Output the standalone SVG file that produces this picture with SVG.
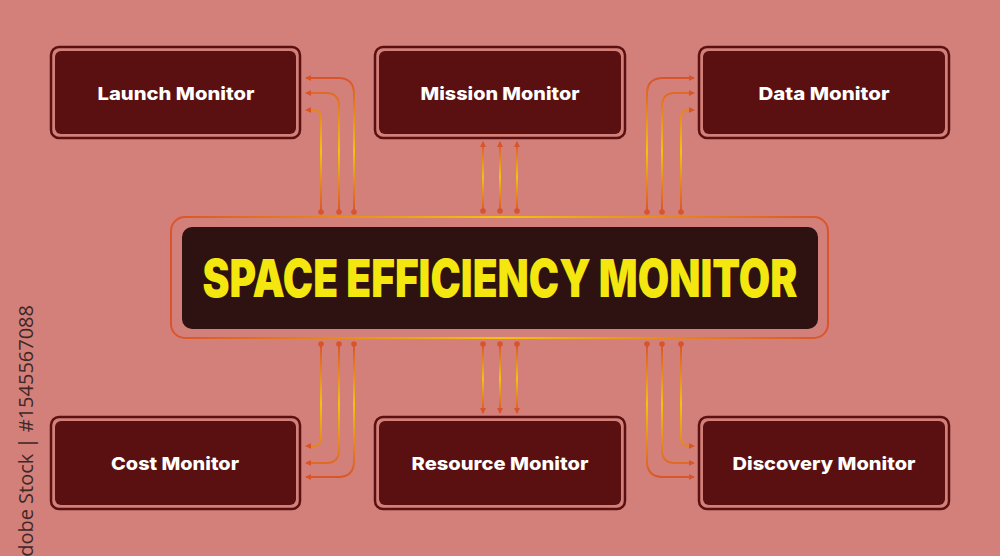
<svg xmlns="http://www.w3.org/2000/svg" width="1000" height="556" viewBox="0 0 1000 556">
<defs>
<style>
.node-outer{fill:none;stroke:#5A0F10;stroke-width:2.5}
.node-inner{fill:#5A0F10}
.lbl{font-family:Inter,"Open Sans","Liberation Sans",sans-serif;font-weight:800;font-size:18px;fill:#FFFFFF;text-anchor:middle}
.title{font-family:Inter,"Open Sans","Liberation Sans",sans-serif;font-weight:900;font-size:52px;fill:#F4E60F;text-anchor:middle}
.dot{fill:#D9542B}
.c{fill:none;stroke-width:2}
</style>
<linearGradient id="gTop" gradientUnits="userSpaceOnUse" x1="0" y1="78" x2="0" y2="212">
<stop offset="0" stop-color="#D9542B"/><stop offset="0.55" stop-color="#F4C20D"/><stop offset="1" stop-color="#D9542B"/>
</linearGradient>
<linearGradient id="gTopM" gradientUnits="userSpaceOnUse" x1="0" y1="142" x2="0" y2="212">
<stop offset="0" stop-color="#D9542B"/><stop offset="0.5" stop-color="#F4C20D"/><stop offset="1" stop-color="#D9542B"/>
</linearGradient>
<linearGradient id="gBot" gradientUnits="userSpaceOnUse" x1="0" y1="344" x2="0" y2="478">
<stop offset="0" stop-color="#D9542B"/><stop offset="0.45" stop-color="#F4C20D"/><stop offset="1" stop-color="#D9542B"/>
</linearGradient>
<linearGradient id="gBotM" gradientUnits="userSpaceOnUse" x1="0" y1="344" x2="0" y2="413">
<stop offset="0" stop-color="#D9542B"/><stop offset="0.5" stop-color="#F4C20D"/><stop offset="1" stop-color="#D9542B"/>
</linearGradient>
<linearGradient id="gH" gradientUnits="userSpaceOnUse" x1="171" y1="0" x2="828" y2="0">
<stop offset="0" stop-color="#D9542B"/><stop offset="0.5" stop-color="#F4C20D"/><stop offset="1" stop-color="#D9542B"/>
</linearGradient>
<marker id="arr" viewBox="0 0 6 6" refX="5" refY="3" markerWidth="6" markerHeight="6" markerUnits="userSpaceOnUse" orient="auto">
<path d="M0,0 L6,3 L0,6 z" fill="#D9542B"/>
</marker>
</defs>
<rect x="0" y="0" width="1000" height="556" fill="#D4807A"/>

<text transform="translate(33,305) rotate(-90)" font-family="'Open Sans','Liberation Sans',sans-serif" font-size="20" fill="#3E2828" text-anchor="end">Adobe Stock | #1545567088</text>

<g id="center">
<rect x="171" y="217" width="657" height="121" rx="14" fill="none" stroke="url(#gH)" stroke-width="2"/>
<rect x="182" y="227" width="636" height="102" rx="10" fill="#2E1111"/>
<text class="title" x="500" y="297" textLength="595" lengthAdjust="spacingAndGlyphs">SPACE EFFICIENCY MONITOR</text>
</g>

<g id="launch">
<rect class="node-outer" x="51" y="47" width="249" height="91" rx="8"/>
<rect class="node-inner" x="55" y="51" width="241" height="83" rx="6"/>
<text class="lbl" x="176" y="100" textLength="157" lengthAdjust="spacingAndGlyphs">Launch Monitor</text>
</g>
<g id="mission">
<rect class="node-outer" x="375" y="47" width="250" height="91" rx="8"/>
<rect class="node-inner" x="379" y="51" width="242" height="83" rx="6"/>
<text class="lbl" x="500" y="100" textLength="159" lengthAdjust="spacingAndGlyphs">Mission Monitor</text>
</g>
<g id="data">
<rect class="node-outer" x="699" y="47" width="250" height="91" rx="8"/>
<rect class="node-inner" x="703" y="51" width="242" height="83" rx="6"/>
<text class="lbl" x="824" y="100" textLength="131" lengthAdjust="spacingAndGlyphs">Data Monitor</text>
</g>
<g id="cost">
<rect class="node-outer" x="51" y="417" width="249" height="92" rx="8"/>
<rect class="node-inner" x="55" y="421" width="241" height="84" rx="6"/>
<text class="lbl" x="175" y="470" textLength="128" lengthAdjust="spacingAndGlyphs">Cost Monitor</text>
</g>
<g id="resource">
<rect class="node-outer" x="375" y="417" width="250" height="92" rx="8"/>
<rect class="node-inner" x="379" y="421" width="242" height="84" rx="6"/>
<text class="lbl" x="500" y="470" textLength="177" lengthAdjust="spacingAndGlyphs">Resource Monitor</text>
</g>
<g id="discovery">
<rect class="node-outer" x="699" y="417" width="250" height="92" rx="8"/>
<rect class="node-inner" x="703" y="421" width="242" height="84" rx="6"/>
<text class="lbl" x="824" y="470" textLength="183" lengthAdjust="spacingAndGlyphs">Discovery Monitor</text>
</g>

<g id="connectors">
<path class="c" stroke="url(#gTop)" d="M354,212 V94 Q354,78 338,78 H306" marker-end="url(#arr)"/>
<path class="c" stroke="url(#gTop)" d="M339,212 V106 Q339,93 326,93 H306" marker-end="url(#arr)"/>
<path class="c" stroke="url(#gTop)" d="M321,212 V118 Q321,110 313,110 H306" marker-end="url(#arr)"/>
<circle class="dot" cx="354" cy="212" r="2.8"/><circle class="dot" cx="339" cy="212" r="2.8"/><circle class="dot" cx="321" cy="212" r="2.8"/>
<path class="c" stroke="url(#gTopM)" d="M483,211 V142" marker-end="url(#arr)"/>
<path class="c" stroke="url(#gTopM)" d="M500,211 V142" marker-end="url(#arr)"/>
<path class="c" stroke="url(#gTopM)" d="M517,211 V142" marker-end="url(#arr)"/>
<circle class="dot" cx="483" cy="211" r="2.8"/><circle class="dot" cx="500" cy="211" r="2.8"/><circle class="dot" cx="517" cy="211" r="2.8"/>
<path class="c" stroke="url(#gTop)" d="M647,212 V94 Q647,78 663,78 H694" marker-end="url(#arr)"/>
<path class="c" stroke="url(#gTop)" d="M662,212 V106 Q662,93 675,93 H694" marker-end="url(#arr)"/>
<path class="c" stroke="url(#gTop)" d="M681,212 V118 Q681,110 689,110 H694" marker-end="url(#arr)"/>
<circle class="dot" cx="647" cy="212" r="2.8"/><circle class="dot" cx="662" cy="212" r="2.8"/><circle class="dot" cx="681" cy="212" r="2.8"/>
<path class="c" stroke="url(#gBot)" d="M321,344 V438 Q321,446 313,446 H306" marker-end="url(#arr)"/>
<path class="c" stroke="url(#gBot)" d="M339,344 V450 Q339,463 326,463 H306" marker-end="url(#arr)"/>
<path class="c" stroke="url(#gBot)" d="M354,344 V461 Q354,477 338,477 H306" marker-end="url(#arr)"/>
<circle class="dot" cx="354" cy="344" r="2.8"/><circle class="dot" cx="339" cy="344" r="2.8"/><circle class="dot" cx="321" cy="344" r="2.8"/>
<path class="c" stroke="url(#gBotM)" d="M483,344 V413" marker-end="url(#arr)"/>
<path class="c" stroke="url(#gBotM)" d="M500,344 V413" marker-end="url(#arr)"/>
<path class="c" stroke="url(#gBotM)" d="M517,344 V413" marker-end="url(#arr)"/>
<circle class="dot" cx="483" cy="344" r="2.8"/><circle class="dot" cx="500" cy="344" r="2.8"/><circle class="dot" cx="517" cy="344" r="2.8"/>
<path class="c" stroke="url(#gBot)" d="M681,344 V438 Q681,446 689,446 H694" marker-end="url(#arr)"/>
<path class="c" stroke="url(#gBot)" d="M662,344 V450 Q662,463 675,463 H694" marker-end="url(#arr)"/>
<path class="c" stroke="url(#gBot)" d="M647,344 V461 Q647,477 663,477 H694" marker-end="url(#arr)"/>
<circle class="dot" cx="647" cy="344" r="2.8"/><circle class="dot" cx="662" cy="344" r="2.8"/><circle class="dot" cx="681" cy="344" r="2.8"/>
</g>
</svg>
